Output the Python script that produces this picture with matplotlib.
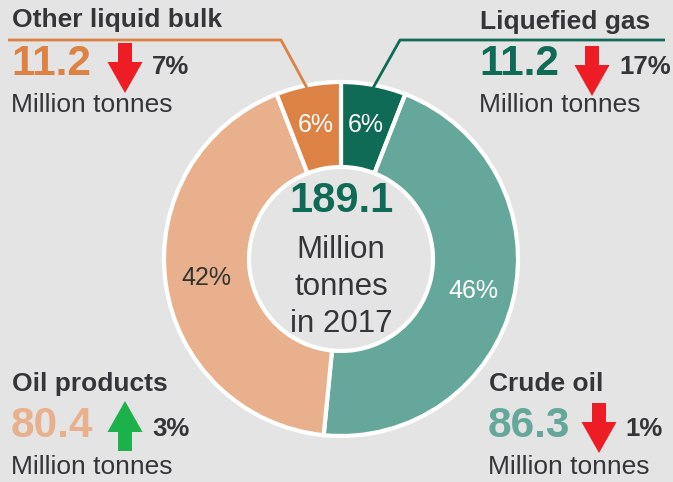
import matplotlib.pyplot as plt
from matplotlib.patches import FancyArrow

plt.rcParams['font.family'] = ['Liberation Sans', 'DejaVu Sans']

# data
categories = ['Liquefied gas', 'Crude oil', 'Oil products', 'Other liquid bulk']
values = [11.2, 86.3, 80.4, 11.2]          # million tonnes, 2017
pct_labels = ['6%', '46%', '42%', '6%']
changes = [-17, -1, 3, -7]                 # % change vs previous year
year = 2017

colors = ['#0f6b55', '#65a89b', '#e8b08c', '#dc8245']
pct_colors = ['white', 'white', '#333333', 'white']
bg = '#e4e4e4'
dark = '#333538'
W, H = 673, 482

fig = plt.figure(figsize=(W / 100, H / 100), dpi=100, facecolor=bg)
ax = fig.add_axes([0, 0, 1, 1])
ax.set_facecolor(bg)

def Y(v):
    return H - v

cx, cy, r_out, r_in = 341, Y(259), 177, 92

wedges, texts = ax.pie(values, labels=pct_labels, colors=colors, startangle=90,
                       counterclock=False, center=(cx, cy), radius=r_out,
                       labeldistance=(r_in + r_out) / 2 / r_out + 0.01,
                       wedgeprops=dict(width=r_out - r_in, edgecolor='white', linewidth=3),
                       textprops=dict(fontsize=18, ha='center', va='center'),
                       frame=True)
for t, c in zip(texts, pct_colors):
    t.set_color(c)
ax.set_xlim(0, W)
ax.set_ylim(0, H)
ax.axis('off')

# center text
total = sum(values)
ax.text(cx, Y(201), f'{total:.1f}', fontsize=30, fontweight='bold', color=colors[0],
        ha='center', va='center')
ax.text(cx, Y(287), f'Million\ntonnes\nin {year}', fontsize=22.5, color=dark,
        ha='center', va='center', linespacing=1.32)

# callouts: (title x, title y, number y, pct x, arrow x, arrow top)
layout = {
    'Liquefied gas': (480, 22, 64, 619, 592, 46),
    'Crude oil': (489, 384, 426, 625, 599, 403),
    'Oil products': (12, 384, 426, 152, 125, 401),
    'Other liquid bulk': (12, 20, 64, 152, 125, 43),
}

for name, val, chg, col in zip(categories, values, changes, colors):
    tx, ty, ny, px, axx, atop = layout[name]
    ax.text(tx, Y(ty), name, fontsize=19, fontweight='bold', color=dark,
            ha='left', va='center')
    ax.text(tx - 1, Y(ny), f'{val:.1f}', fontsize=30.5, fontweight='bold', color=col,
            ha='left', va='center')
    ax.text(tx - 1, Y(ny + 41), 'Million tonnes', fontsize=19, color=dark,
            ha='left', va='center')
    ax.text(px, Y(ny + 3), f'{abs(chg)}%', fontsize=18.5, fontweight='bold', color=dark,
            ha='left', va='center')
    if chg < 0:
        arr = FancyArrow(axx, Y(atop), 0, -50, width=14, head_width=35, head_length=31,
                         length_includes_head=True, color='#ee1c25', lw=0)
    else:
        arr = FancyArrow(axx, Y(atop + 50), 0, 50, width=14, head_width=35, head_length=31,
                         length_includes_head=True, color='#1db14b', lw=0)
    ax.add_patch(arr)

# leader lines
ax.plot([8, 281, 307], [Y(40), Y(40), Y(88)], color=colors[3], lw=2, solid_capstyle='butt')
ax.plot([665, 400, 373], [Y(40), Y(40), Y(88)], color=colors[0], lw=2, solid_capstyle='butt')

fig.savefig('out.png', dpi=100, facecolor=bg)
